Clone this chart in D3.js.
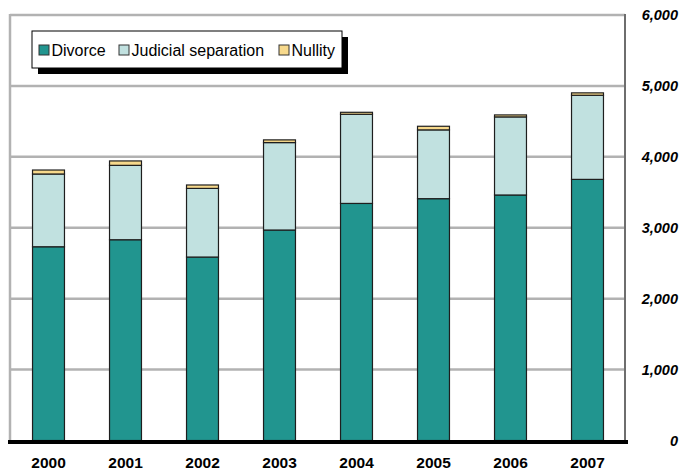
<!DOCTYPE html>
<html><head><meta charset="utf-8">
<script src="https://cdn.jsdelivr.net/npm/d3@7"></script>
<style>body{margin:0;background:#fff}svg{display:block;font-family:"Liberation Sans",Arial,sans-serif}</style>
</head><body>
<svg id="c" width="681" height="474"></svg>
<script>
const years = ["2000","2001","2002","2003","2004","2005","2006","2007"];
const divorce = [2732, 2831, 2587, 2968, 3343, 3410, 3462, 3682];
const judicial = [1026, 1049, 968, 1233, 1257, 970, 1101, 1186];
const nullity = [56, 62, 48, 38, 28, 51, 28, 34];
const seriesNames = ["Divorce", "Judicial separation", "Nullity"];
const colors = ["#21958f", "#c1e1e0", "#f7d98c"];
const yTicks = [0, 1000, 2000, 3000, 4000, 5000, 6000];

const svg = d3.select("#c");
const x = d3.scaleBand().domain(years).range([10, 626]).paddingInner(0.585).paddingOuter(0.2925);
const y = d3.scaleLinear().domain([0, 6000]).range([440.5, 15]);

// gridlines
svg.append("g").selectAll("line").data(yTicks.filter(d => d > 0)).join("line")
  .attr("x1", 10).attr("x2", 625).attr("y1", d => y(d)).attr("y2", d => y(d))
  .attr("stroke", "#b2b2b2").attr("stroke-width", 2.5);
// left frame
svg.append("line").attr("x1", 10).attr("x2", 10).attr("y1", y(6000) - 1).attr("y2", y(0))
  .attr("stroke", "#b2b2b2").attr("stroke-width", 2.5);
// right axis line
svg.append("line").attr("x1", 625).attr("x2", 625).attr("y1", y(6000) - 1).attr("y2", y(0))
  .attr("stroke", "#6e6e6e").attr("stroke-width", 2);

// stacked data
const table = years.map((yr, i) => ({year: yr, "Divorce": divorce[i], "Judicial separation": judicial[i], "Nullity": nullity[i]}));
const stack = d3.stack().keys(seriesNames)(table);
svg.append("g").selectAll("g").data(stack).join("g")
  .attr("fill", (d, i) => colors[i])
  .selectAll("rect").data(d => d).join("rect")
  .attr("x", d => x(d.data.year)).attr("width", x.bandwidth())
  .attr("y", d => y(d[1])).attr("height", d => y(d[0]) - y(d[1]))
  .attr("stroke", "#1e1e1e").attr("stroke-width", 1.2);

// bottom axis
svg.append("line").attr("x1", 8).attr("x2", 628).attr("y1", 442).attr("y2", 442)
  .attr("stroke", "#000").attr("stroke-width", 4);

// x labels
const xAxis = svg.append("g").attr("transform", "translate(0,444)")
  .call(d3.axisBottom(x).tickSize(0).tickPadding(13));
xAxis.select(".domain").remove();
xAxis.selectAll("text").attr("font-size", 15.5).attr("font-weight", "bold")
  .attr("font-family", "'Liberation Sans', Arial, sans-serif").attr("fill", "#000");

// y labels on right
const yAxis = svg.append("g").attr("transform", "translate(678,0)")
  .call(d3.axisLeft(y).tickValues(yTicks).tickSize(0).tickPadding(0).tickFormat(d3.format(",")));
yAxis.select(".domain").remove();
yAxis.selectAll("text").attr("font-size", 14.5).attr("font-weight", "bold").attr("font-style", "italic")
  .attr("font-family", "'Liberation Sans', Arial, sans-serif").attr("fill", "#000");

// legend
const lg = svg.append("g");
lg.append("rect").attr("x", 38).attr("y", 37).attr("width", 310).attr("height", 37).attr("fill", "#000");
lg.append("rect").attr("x", 32).attr("y", 31).attr("width", 310).attr("height", 37)
  .attr("fill", "#fff").attr("stroke", "#000").attr("stroke-width", 1);
const itemX = [39, 119, 279];
const items = lg.selectAll("g.item").data(seriesNames).join("g").attr("class", "item")
  .attr("transform", (d, i) => `translate(${itemX[i]},45)`);
items.append("rect").attr("width", 10).attr("height", 10).attr("fill", (d, i) => colors[i])
  .attr("stroke", "#333").attr("stroke-width", 1);
items.append("text").attr("x", 12.5).attr("y", 10.5).attr("font-size", 16).attr("fill", "#000").text(d => d);
</script>
</body></html>
